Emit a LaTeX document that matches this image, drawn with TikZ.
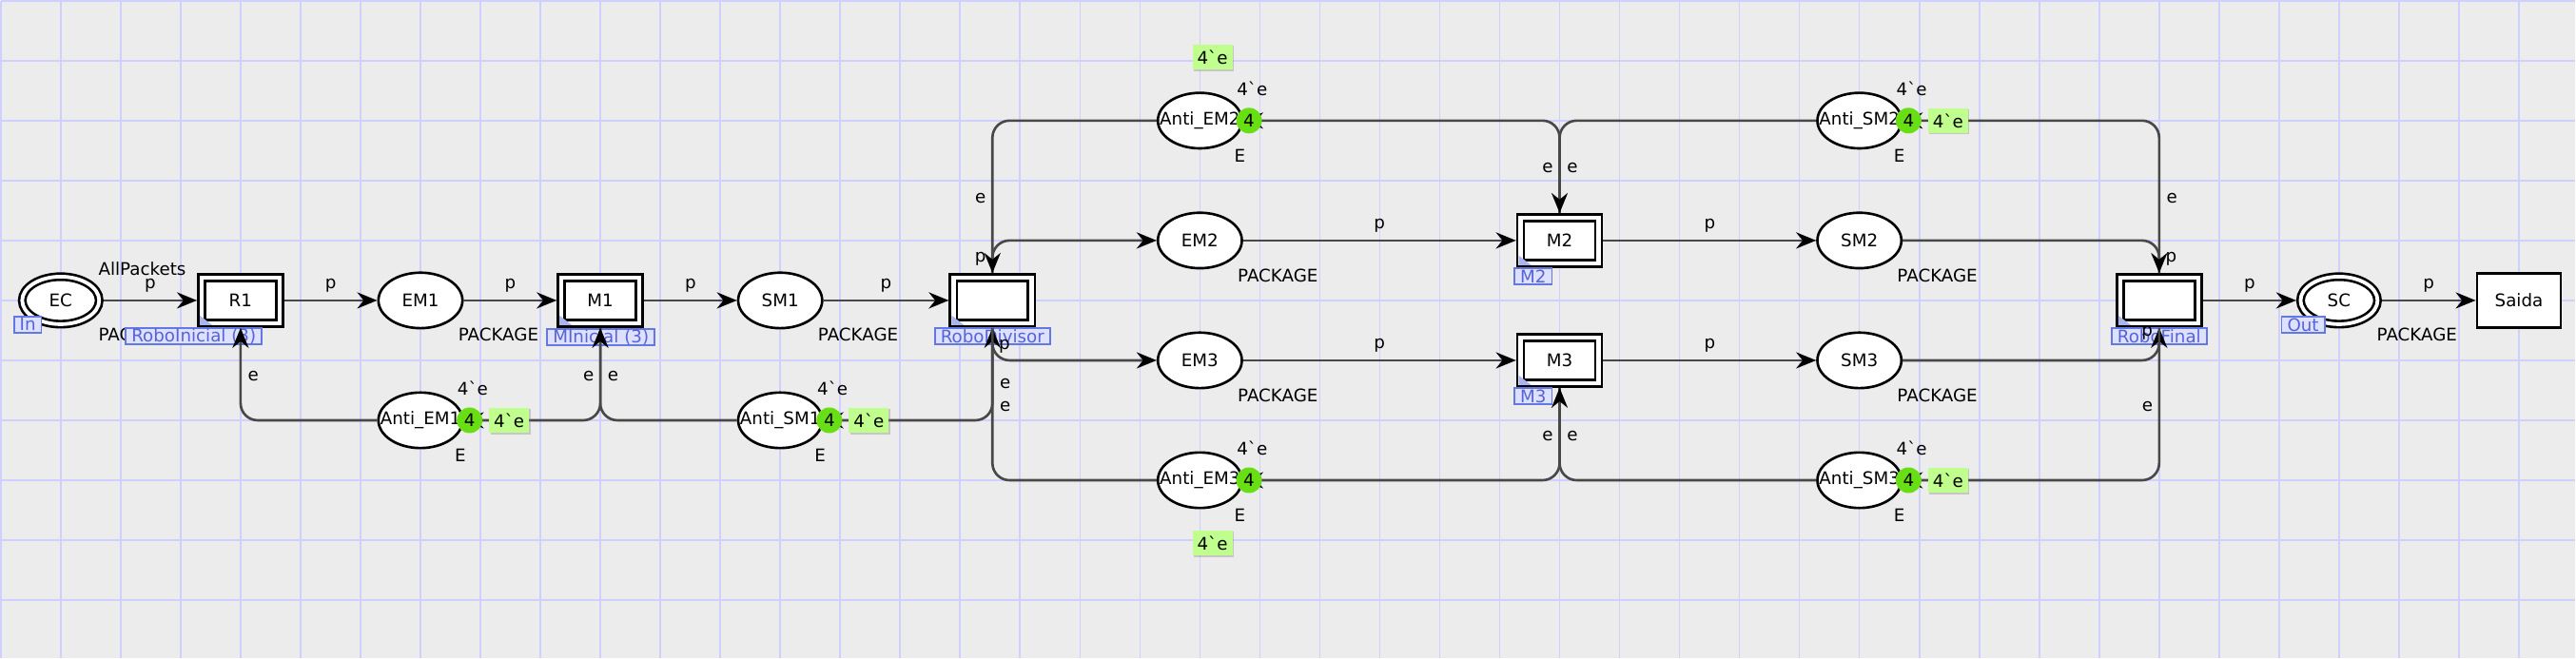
\documentclass[tikz,border=0pt]{standalone}
\usepackage{fontspec}
\setmainfont{DejaVu Sans}[Ligatures=TeXOff]
\usetikzlibrary{arrows.meta,shapes.geometric,shadows}
\definecolor{canvas}{RGB}{236,236,236}
\definecolor{gridcol}{RGB}{208,208,255}
\definecolor{arccol}{RGB}{72,72,72}
\definecolor{tagline}{RGB}{100,120,225}
\definecolor{tagfill}{RGB}{222,224,255}
\definecolor{tagtext}{RGB}{85,100,215}
\definecolor{tokgreen}{RGB}{104,222,20}
\definecolor{markgreen}{RGB}{192,255,142}
\newcommand{\tick}{\symbol{"60}}
\tikzstyle{arc} = [-{Stealth[length=2.1mm,width=1.7mm,color=black]}, draw=arccol, line width=0.75pt, rounded corners=1.8mm]
\tikzstyle{lab} = [inner sep=1pt]
\tikzstyle{place} = [draw, ellipse, fill=white, line width=0.75pt, minimum width=0.884cm, minimum height=0.584cm, inner sep=0pt]
\tikzstyle{port} = [place, double, double distance=1.1pt, minimum width=0.81cm, minimum height=0.5cm, outer sep=1.3pt]
\tikzstyle{trans} = [draw, rectangle, fill=white, line width=0.75pt, minimum width=0.884cm, minimum height=0.574cm, inner sep=0pt]
\tikzstyle{subst} = [trans, double, double distance=1.3pt, minimum width=0.82cm, minimum height=0.48cm, outer sep=1.4pt]
\tikzstyle{tag} = [draw=tagline, fill=tagfill, text=tagtext, line width=0.5pt, inner xsep=1.7pt, inner ysep=0pt, minimum height=0.17cm]
\tikzstyle{token} = [circle, fill=tokgreen, minimum size=0.27cm, inner sep=0pt]
\tikzstyle{markbox} = [fill=markgreen, minimum width=0.42cm, minimum height=0.265cm, inner sep=0pt, drop shadow={shadow xshift=0.4pt, shadow yshift=-0.4pt, opacity=0.35}]

\begin{document}
\begin{tikzpicture}[x=0.6307cm, y=-0.6307cm, font=\fontsize{5.2}{6.2}\selectfont]
        % canvas and grid
        \fill[canvas] (0,0) rectangle (42.94,10.96);
        \foreach \i in {0,...,42}
            \draw[gridcol, line width=0.45pt] (\i,0) -- (\i,10.96);
        \foreach \j in {0,...,10}
            \draw[gridcol, line width=0.45pt] (0,\j) -- (42.94,\j);
        \useasboundingbox (0,0) rectangle (42.94,10.96);

        % places and transitions
        \node[port] at (1,5) (EC) {EC};
        \node[subst] at (4,5) (R1) {R1};
        \node[place] at (7,5) (EM1) {EM1};
        \node[subst] at (10,5) (M1) {M1};
        \node[place] at (13,5) (SM1) {SM1};
        \node[subst] at (16.54,5) (RD) {};
        \node[place] at (20,4) (EM2) {EM2};
        \node[place] at (20,6) (EM3) {EM3};
        \node[subst] at (26,4) (M2) {M2};
        \node[subst] at (26,6) (M3) {M3};
        \node[place] at (31,4) (SM2) {SM2};
        \node[place] at (31,6) (SM3) {SM3};
        \node[subst] at (36,5) (RF) {};
        \node[port] at (39,5) (SC) {SC};
        \node[trans] at (42,5) (Saida) {Saida};

        \node[place] at (7,7) (AEM1) {\makebox[0pt]{Anti\_EM1}};
        \node[place] at (13,7) (ASM1) {\makebox[0pt]{Anti\_SM1}};
        \node[place] at (20,2) (AEM2) {\makebox[0pt]{Anti\_EM2}};
        \node[place] at (20,8) (AEM3) {\makebox[0pt]{Anti\_EM3}};
        \node[place] at (31,2) (ASM2) {\makebox[0pt]{Anti\_SM2}};
        \node[place] at (31,8) (ASM3) {\makebox[0pt]{Anti\_SM3}};

        % colour sets and initial marking
        \node at (2.36,4.48) (ECinit) {AllPackets};
        \node at (2.3,5.57) (ECtype) {PACKAGE};
        \node at (8.3,5.57) (EM1type) {PACKAGE};
        \node at (14.3,5.57) (SM1type) {PACKAGE};
        \node at (21.3,4.58) (EM2type) {PACKAGE};
        \node at (21.3,6.58) (EM3type) {PACKAGE};
        \node at (32.3,4.58) (SM2type) {PACKAGE};
        \node at (32.3,6.58) (SM3type) {PACKAGE};
        \node at (40.3,5.57) (SCtype) {PACKAGE};

        % tags
        \node[tag] at (0.45,5.4) (tIn) {In};
        \node[tag] at (38.4,5.41) (tOut) {Out};
        \node[tag] at (3.22,5.6) (tR1) {RoboInicial (3)};
        \node[tag] at (10.01,5.61) (tM1) {MInicial (3)};
        \node[tag] at (16.54,5.6) (tRD) {RoboDivisor};
        \node[tag] at (25.56,4.6) (tM2) {M2};
        \node[tag] at (25.56,6.6) (tM3) {M3};
        \node[tag] at (36,5.6) (tRF) {RoboFinal};
        \foreach \t in {R1,M1,RD,M2,M3,RF}
            \fill[tagline!55] ([xshift=0.03cm,yshift=0.03cm]\t.south west) -- ++(0cm,0.1cm) -- ++(0.13cm,-0.1cm) -- cycle;

        % arcs
        \draw[arc] (EC) -- node[lab, above=0.4mm] (i1) {p} (R1);
        \draw[arc] (R1) -- node[lab, above=0.4mm] (i2) {p} (EM1);
        \draw[arc] (EM1) -- node[lab, above=0.4mm] (i3) {p} (M1);
        \draw[arc] (M1) -- node[lab, above=0.4mm] (i4) {p} (SM1);
        \draw[arc] (SM1) -- node[lab, above=0.4mm] (i5) {p} (RD);
        \draw[arc] (EM2) -- node[lab, above=0.4mm] (i6) {p} (M2);
        \draw[arc] (M2) -- node[lab, above=0.4mm] (i7) {p} (SM2);
        \draw[arc] (EM3) -- node[lab, above=0.4mm] (i8) {p} (M3);
        \draw[arc] (M3) -- node[lab, above=0.4mm] (i9) {p} (SM3);
        \draw[arc] (RF) -- node[lab, above=0.4mm] (i10) {p} (SC);
        \draw[arc] (SC) -- node[lab, above=0.4mm] (i11) {p} (Saida);

        \draw[arc] (AEM1) -| node[lab, pos=0.737, right=0.3mm] (i12) {e} (R1);
        \draw[arc] (M1) |- node[lab, pos=0.263, left=0.2mm] (i13) {e} (AEM1);
        \draw[arc] (ASM1) -| node[lab, pos=0.737, right=0.3mm] (i14) {e} (M1);
        \draw[arc] (RD) |- node[lab, pos=0.302, right=0.3mm] (i15) {e} (ASM1);
        \draw[arc] (AEM3) -| node[lab, pos=0.742, right=0.3mm] (i16) {e} (RD);
        \draw[arc] (RD) |- node[lab, pos=0.287, right=0.2mm] (i17) {p} (EM3);
        \draw[arc] (RD) |- node[lab, pos=0.213, left=0.2mm] (i18) {p} (EM2);
        \draw[arc] (AEM2) -| node[lab, pos=0.756, left=0.2mm] (i19) {e} (RD);
        \draw[arc] (M2) |- node[lab, pos=0.244, left=0.2mm] (i20) {e} (AEM2);
        \draw[arc] (ASM2) -| node[lab, pos=0.756, right=0.3mm] (i21) {e} (M2);
        \draw[arc] (M3) |- node[lab, pos=0.263, left=0.2mm] (i22) {e} (AEM3);
        \draw[arc] (ASM3) -| node[lab, pos=0.737, right=0.3mm] (i23) {e} (M3);
        \draw[arc] (RF) |- node[lab, pos=0.244, right=0.3mm] (i24) {e} (ASM2);
        \draw[arc] (SM2) -| node[lab, pos=0.787, right=0.2mm] (i25) {p} (RF);
        \draw[arc] (SM3) -| node[lab, pos=0.917, left=0.2mm] (i26) {p} (RF);
        \draw[arc] (RF) |- node[lab, pos=0.258, left=0.2mm] (i27) {e} (ASM3);

        % tokens on the anti places
        \foreach \a in {AEM1,ASM1,AEM2,AEM3,ASM2,ASM3} {
            \node at ([xshift=0.55cm,yshift=0.335cm]\a.center) (\a-init) {4\tick e};
            \node at ([xshift=0.42cm,yshift=-0.37cm]\a.center) (\a-type) {E};
            \node[token] at ([xshift=0.517cm]\a.center) (\a-tok) {4};
        }
        \foreach \a in {AEM1,ASM1,ASM2,ASM3}
            \node[markbox] at ([xshift=0.933cm]\a.center) (\a-mark) {4\tick e};
        \node[markbox] at ([xshift=0.132cm,yshift=0.669cm]AEM2.center) (AEM2-mark) {4\tick e};
        \node[markbox] at ([xshift=0.132cm,yshift=-0.662cm]AEM3.center) (AEM3-mark) {4\tick e};
\end{tikzpicture}
\end{document}
